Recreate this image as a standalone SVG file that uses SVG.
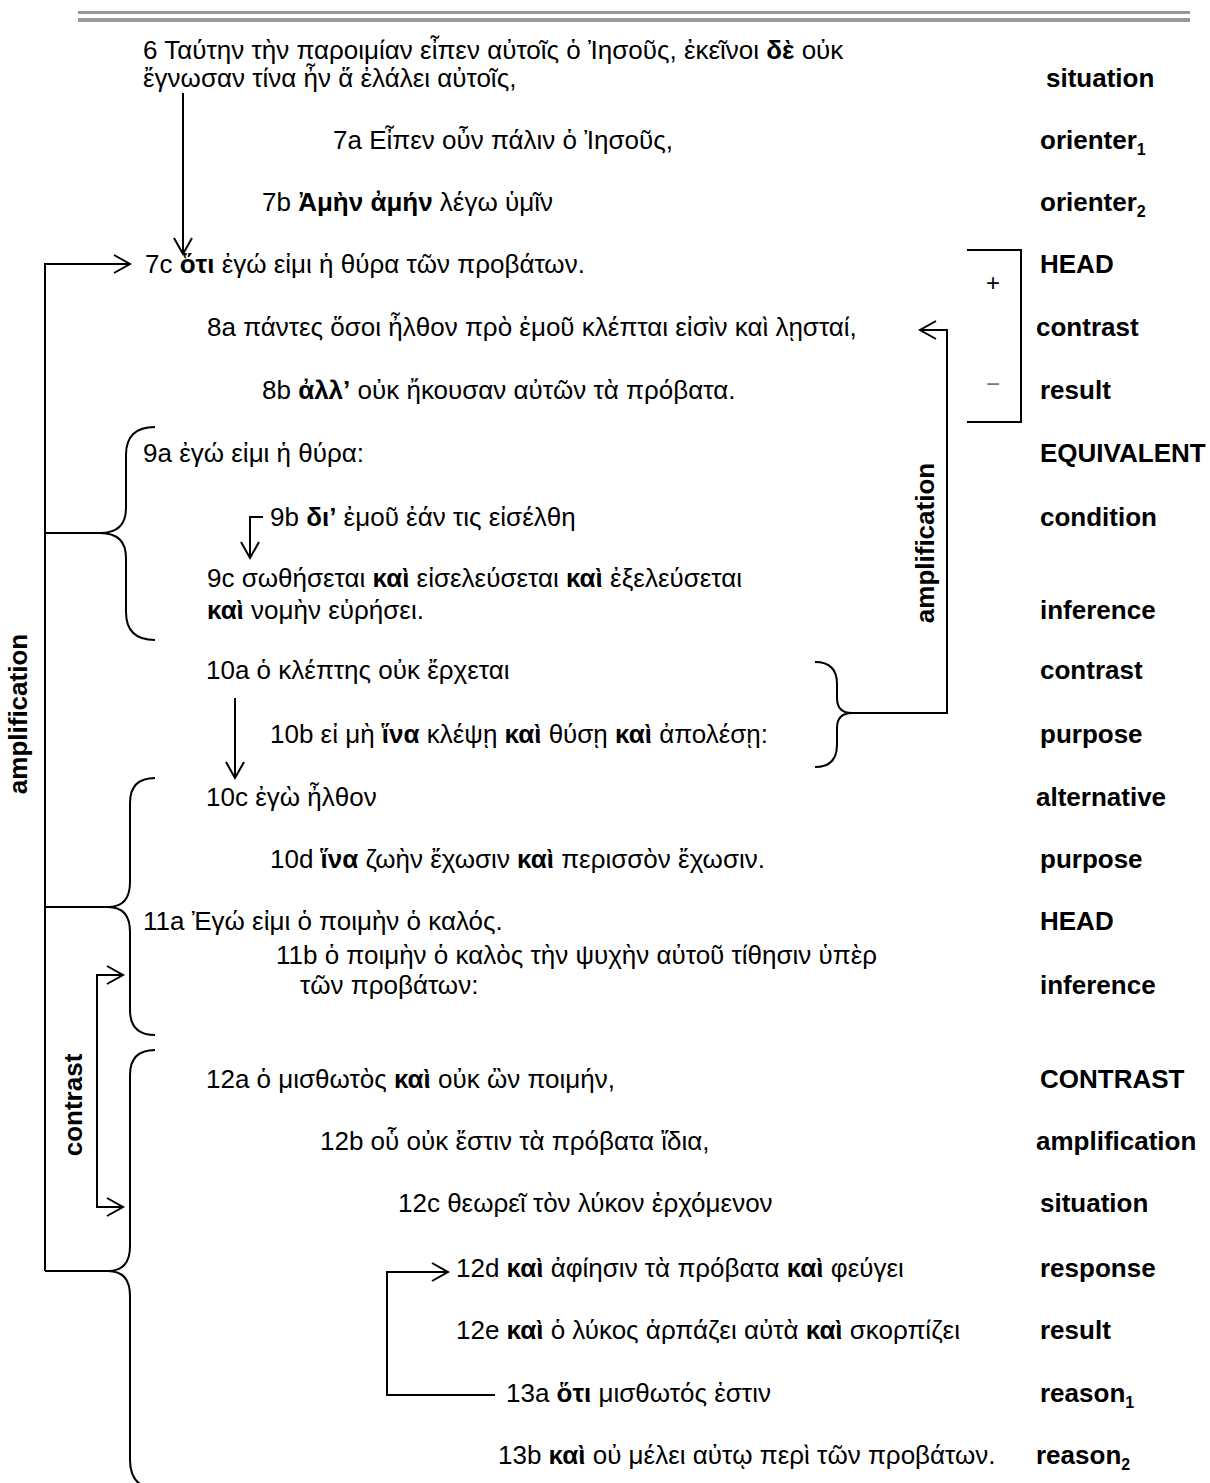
<svg xmlns="http://www.w3.org/2000/svg" width="1210" height="1483" viewBox="0 0 1210 1483">
<defs>
<style>
text{font-family:"Liberation Sans",Arial,sans-serif;font-size:26px;fill:#000}
.b{font-weight:bold}
.lbl{font-weight:bold}
.ln{fill:none;stroke:#000;stroke-width:2}
.sub{font-size:16px}
.sign{font-size:24px}
</style>
<marker id="ah" markerUnits="userSpaceOnUse" viewBox="-20 -12 24 24" markerWidth="24" markerHeight="24" refX="0" refY="0" orient="auto">
<path d="M-16,-9 L0,0 L-16,9" fill="none" stroke="#000" stroke-width="2"/>
</marker>
</defs>
<rect width="1210" height="1483" fill="#fff"/>
<rect x="78" y="11" width="1112" height="3" fill="#999"/>
<rect x="78" y="18" width="1112" height="4" fill="#999"/>

<g id="connectors">
<path class="ln" d="M183,93 L183,254" marker-end="url(#ah)"/>
<path class="ln" d="M45,1271 L45,264 L130,264" marker-end="url(#ah)"/>
<path class="ln" d="M45,533 L100,533"/>
<path class="ln" d="M45,907 L108,907"/>
<path class="ln" d="M45,1271 L108,1271"/>
<path class="ln" d="M155,427 Q126,427 126,455 L126,508 Q126,533 100,533 Q126,533 126,558 L126,612 Q126,640 155,640"/>
<path class="ln" d="M155,778 Q130,778 130,803 L130,882 Q130,907 108,907 Q130,907 130,932 L130,1010 Q130,1035 155,1035"/>
<path class="ln" d="M155,1050 Q130,1050 130,1075 L130,1246 Q130,1271 108,1271 Q130,1271 130,1296 L130,1460 Q130,1488 158,1490"/>
<path class="ln" d="M97,1090 L97,975 L123,975" marker-end="url(#ah)"/>
<path class="ln" d="M97,1090 L97,1207 L123,1207" marker-end="url(#ah)"/>
<path class="ln" d="M263,517 L250,517 L250,558" marker-end="url(#ah)"/>
<path class="ln" d="M235,698 L235,778" marker-end="url(#ah)"/>
<path class="ln" d="M967,250 L1021,250 L1021,422 L967,422"/>
<path class="ln" d="M815,662 Q837,662 837,684 L837,698 Q837,713 852,713 Q837,713 837,728 L837,745 Q837,767 815,767"/>
<path class="ln" d="M852,713 L947,713 L947,330 L920,330" marker-end="url(#ah)"/>
<path class="ln" d="M495,1395 L387,1395 L387,1272 L448,1272" marker-end="url(#ah)"/>
</g>

<g id="marks">
<text class="sign" x="993" y="291" text-anchor="middle">+</text>
<text class="sign" x="993" y="392" text-anchor="middle" style="fill:#777">−</text>
<text class="lbl" transform="translate(27,714) rotate(-90)" text-anchor="middle">amplification</text>
<text class="lbl" transform="translate(82,1105) rotate(-90)" text-anchor="middle">contrast</text>
<text class="lbl" transform="translate(934,543) rotate(-90)" text-anchor="middle">amplification</text>
</g>

<g id="n6"><text x="143" y="59">6 Ταύτην τὴν παροιμίαν εἶπεν αὐτοῖς ὁ Ἰησοῦς, ἐκεῖνοι <tspan class="b">δὲ</tspan> οὐκ</text><text x="143" y="87">ἔγνωσαν τίνα ἦν ἅ ἐλάλει αὐτοῖς,</text><text class="lbl" x="1046" y="87">situation</text></g>
<g id="n7a"><text x="333" y="149">7a Εἶπεν οὖν πάλιν ὁ Ἰησοῦς,</text><text class="lbl" x="1040" y="149">orienter<tspan class="sub" dy="6">1</tspan></text></g>
<g id="n7b"><text x="262" y="211">7b <tspan class="b">Ἀμὴν ἀμήν</tspan> λέγω ὑμῖν</text><text class="lbl" x="1040" y="211">orienter<tspan class="sub" dy="6">2</tspan></text></g>
<g id="n7c"><text x="145" y="273">7c <tspan class="b">ὅτι</tspan> ἐγώ εἰμι ἡ θύρα τῶν προβάτων.</text><text class="lbl" x="1040" y="273">HEAD</text></g>
<g id="n8a"><text x="207" y="336">8a πάντες ὅσοι ἦλθον πρὸ ἐμοῦ κλέπται εἰσὶν καὶ λῃσταί,</text><text class="lbl" x="1036" y="336">contrast</text></g>
<g id="n8b"><text x="262" y="399">8b <tspan class="b">ἀλλ’</tspan> οὐκ ἤκουσαν αὐτῶν τὰ πρόβατα.</text><text class="lbl" x="1040" y="399">result</text></g>
<g id="n9a"><text x="143" y="462">9a ἐγώ εἰμι ἡ θύρα:</text><text class="lbl" x="1040" y="462">EQUIVALENT</text></g>
<g id="n9b"><text x="270" y="526">9b <tspan class="b">δι’</tspan> ἐμοῦ ἐάν τις εἰσέλθη</text><text class="lbl" x="1040" y="526">condition</text></g>
<g id="n9c"><text x="207" y="587">9c σωθήσεται <tspan class="b">καὶ</tspan> εἰσελεύσεται <tspan class="b">καὶ</tspan> ἐξελεύσεται</text><text x="207" y="619"><tspan class="b">καὶ</tspan> νομὴν εὑρήσει.</text><text class="lbl" x="1040" y="619">inference</text></g>
<g id="n10a"><text x="206" y="679">10a ὁ κλέπτης οὐκ ἔρχεται</text><text class="lbl" x="1040" y="679">contrast</text></g>
<g id="n10b"><text x="270" y="743">10b εἰ μὴ <tspan class="b">ἵνα</tspan> κλέψῃ <tspan class="b">καὶ</tspan> θύσῃ <tspan class="b">καὶ</tspan> ἀπολέσῃ:</text><text class="lbl" x="1040" y="743">purpose</text></g>
<g id="n10c"><text x="206" y="806">10c ἐγὼ ἦλθον</text><text class="lbl" x="1036" y="806">alternative</text></g>
<g id="n10d"><text x="270" y="868">10d <tspan class="b">ἵνα</tspan> ζωὴν ἔχωσιν <tspan class="b">καὶ</tspan> περισσὸν ἔχωσιν.</text><text class="lbl" x="1040" y="868">purpose</text></g>
<g id="n11a"><text x="143" y="930">11a Ἐγώ εἰμι ὁ ποιμὴν ὁ καλός.</text><text class="lbl" x="1040" y="930">HEAD</text></g>
<g id="n11b"><text x="276" y="964">11b ὁ ποιμὴν ὁ καλὸς τὴν ψυχὴν αὐτοῦ τίθησιν ὑπὲρ</text><text x="300" y="994">τῶν προβάτων:</text><text class="lbl" x="1040" y="994">inference</text></g>
<g id="n12a"><text x="206" y="1088">12a ὁ μισθωτὸς <tspan class="b">καὶ</tspan> οὐκ ὢν ποιμήν,</text><text class="lbl" x="1040" y="1088">CONTRAST</text></g>
<g id="n12b"><text x="320" y="1150">12b οὗ οὐκ ἔστιν τὰ πρόβατα ἴδια,</text><text class="lbl" x="1036" y="1150">amplification</text></g>
<g id="n12c"><text x="398" y="1212">12c θεωρεῖ τὸν λύκον ἐρχόμενον</text><text class="lbl" x="1040" y="1212">situation</text></g>
<g id="n12d"><text x="456" y="1277">12d <tspan class="b">καὶ</tspan> ἀφίησιν τὰ πρόβατα <tspan class="b">καὶ</tspan> φεύγει</text><text class="lbl" x="1040" y="1277">response</text></g>
<g id="n12e"><text x="456" y="1339">12e <tspan class="b">καὶ</tspan> ὁ λύκος ἁρπάζει αὐτὰ <tspan class="b">καὶ</tspan> σκορπίζει</text><text class="lbl" x="1040" y="1339">result</text></g>
<g id="n13a"><text x="506" y="1402">13a <tspan class="b">ὅτι</tspan> μισθωτός ἐστιν</text><text class="lbl" x="1040" y="1402">reason<tspan class="sub" dy="6">1</tspan></text></g>
<g id="n13b"><text x="498" y="1464">13b <tspan class="b">καὶ</tspan> οὐ μέλει αὐτῳ περὶ τῶν προβάτων.</text><text class="lbl" x="1036" y="1464">reason<tspan class="sub" dy="6">2</tspan></text></g>
</svg>
